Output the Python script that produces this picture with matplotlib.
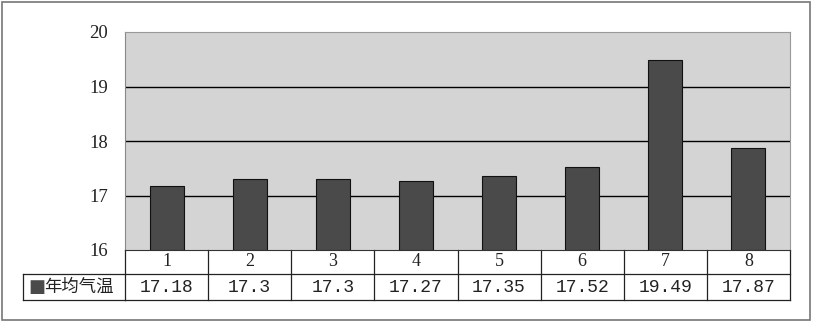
import matplotlib
matplotlib.use("Agg")
import matplotlib.pyplot as plt
from matplotlib.patches import Rectangle
from matplotlib.lines import Line2D

categories = ["1", "2", "3", "4", "5", "6", "7", "8"]
values = [17.18, 17.3, 17.3, 17.27, 17.35, 17.52, 19.49, 17.87]
value_labels = ["17.18", "17.3", "17.3", "17.27", "17.35", "17.52", "19.49", "17.87"]
series_name = "年均气温"
yticks = [16, 17, 18, 19, 20]

W, H = 814, 323
fig = plt.figure(figsize=(W / 100, H / 100), dpi=100)
fig.patch.set_facecolor("white")

# outer border
fig.add_artist(Rectangle((2 / W, 3 / H), 808 / W, 318 / H, transform=fig.transFigure,
                         fill=False, edgecolor="#777777", linewidth=1.2))

L, R, T, B = 125, 790, 32, 250
ax = fig.add_axes([L / W, (H - B) / H, (R - L) / W, (B - T) / H])
ax.set_facecolor("#d4d4d4")
n = len(categories)
x = list(range(n))
ax.bar(x, [v - 16 for v in values], bottom=16, width=0.41, color="#4a4a4a",
       edgecolor="#111111", linewidth=0.8, zorder=3)
ax.set_xlim(-0.5, n - 0.5)
ax.set_ylim(16, 20)
ax.set_yticks(yticks)
ax.set_yticklabels([str(t) for t in yticks], fontsize=13.5, family="Liberation Serif",
                   color="#222222")
ax.tick_params(axis="y", length=0, pad=12)
ax.set_xticks([])
for t in yticks[1:-1]:
    ax.axhline(t, color="black", linewidth=1.0, zorder=2)
for s in ["top", "right"]:
    ax.spines[s].set_color("#999999")
ax.spines["left"].set_color("#888888")
ax.spines["bottom"].set_color("#333333")

# table below axes
trans = ax.get_xaxis_transform()
h = B - T
r1 = -24 / h
r2 = -50 / h
lw = 0.9
col = "#222222"
ax.add_line(Line2D([-0.5, n - 0.5], [r1, r1], transform=trans, color=col, lw=lw, clip_on=False))
ax.add_line(Line2D([-0.5, n - 0.5], [r2, r2], transform=trans, color=col, lw=lw, clip_on=False))
xl = -0.5 - (L - 23) / ((R - L) / n)
ax.add_line(Line2D([xl, -0.5], [r1, r1], transform=trans, color=col, lw=lw, clip_on=False))
ax.add_line(Line2D([xl, -0.5], [r2, r2], transform=trans, color=col, lw=lw, clip_on=False))
ax.add_line(Line2D([xl, xl], [r1, r2], transform=trans, color=col, lw=lw, clip_on=False))
for i in range(n + 1):
    ax.add_line(Line2D([i - 0.5, i - 0.5], [0, r2], transform=trans, color=col, lw=lw, clip_on=False))
for i in range(n):
    ax.text(x[i], r1 / 2, categories[i], transform=trans, ha="center", va="center",
            fontsize=13, family="Liberation Serif", color="#222222")
    ax.text(x[i], (r1 + r2) / 2, value_labels[i], transform=trans, ha="center", va="center",
            fontsize=13, family="Liberation Mono", color="#222222")
ax.text(xl + 0.07, (r1 + r2) / 2, "■", transform=trans, ha="left", va="center",
        fontsize=13, color="#4a4a4a", family=["DejaVu Sans"])
ax.text(xl + 0.26, (r1 + r2) / 2, series_name, transform=trans, ha="left", va="center",
        fontsize=12.5, family=["Noto Sans CJK SC", "DejaVu Sans"], color="#222222")

fig.savefig("out.png", dpi=100)
